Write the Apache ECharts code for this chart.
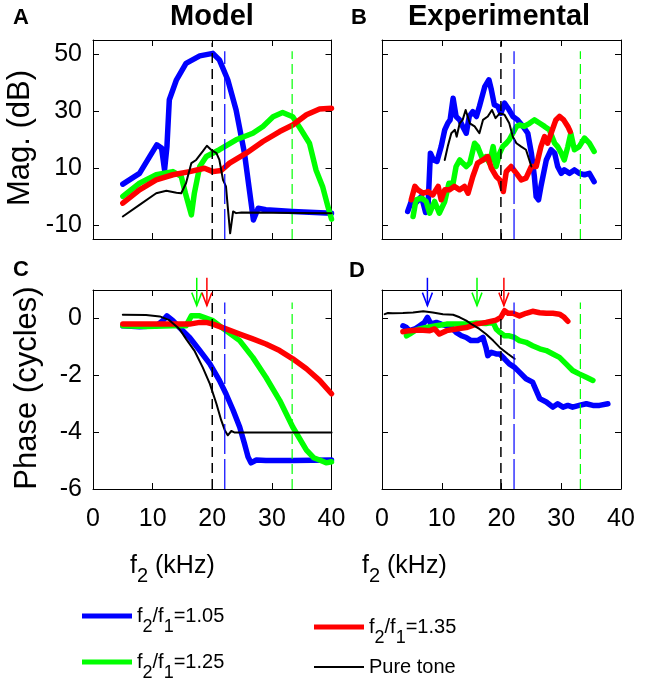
<!DOCTYPE html>
<html><head><meta charset="utf-8">
<script src="https://cdn.jsdelivr.net/npm/echarts@6/dist/echarts.min.js"></script>
<style>html,body{margin:0;padding:0;background:#fff}#c{width:650px;height:684px}</style>
</head><body><div id="c"></div><script>
// ---------- DATA ----------
const xTicks = [0, 10, 20, 30, 40];
const magTicks = [-10, 10, 30, 50];
const phaseTicks = [-6, -4, -2, 0];
const ratioNames = ['f2/f1=1.05', 'f2/f1=1.25', 'f2/f1=1.35'];
const pureName = 'Pure tone';

// Panel A: model magnitude (kHz, dB)
const modelMagBlue = [[5,4.3],[7.8,8.1],[9.5,14],[10.7,18.1],[11.5,17],[12.0,9.3],[12.4,17.5],[12.8,34],[14,41],[15.6,46.8],[17.9,49.4],[20.1,50.3],[21.2,48],[22.6,41],[24,30.4],[25.4,15.2],[26.3,1.1],[26.9,-8.3],[27.7,-4.2],[29,-4.7],[33.5,-5.3],[40,-5.9]];
const modelMagGreen = [[5,0],[7.8,4.6],[10.6,7.6],[13.4,8.7],[14.8,7],[15.5,1.1],[16.5,-6.5],[17,1.1],[17.9,10.5],[19,14],[21.2,16.4],[24,19.9],[26.8,22.2],[28.5,24.6],[30.2,28],[31.8,29.5],[33.5,28],[34.9,23.4],[36.3,18.7],[37.4,9.3],[38.5,3.5],[39.4,-3.6],[40,-8]];
const modelMagRed = [[5,-2.4],[7.8,2.3],[10.6,5.8],[13.4,7.6],[16.2,8.7],[18.7,9.9],[20.1,8.7],[21.5,9.1],[22.9,11.7],[25.7,15.2],[28.5,19.3],[31.3,22.8],[33.5,25.1],[35.8,28.7],[38,30.7],[40,31]];
const modelMagBlack = [[5,-7.1],[7.8,-3],[10.6,1.1],[12.3,2],[14,1.3],[14.8,1.1],[15.6,4.6],[16.5,11.7],[17.3,12.8],[18.4,15.8],[19.1,17.8],[19.8,16.4],[20.7,15.2],[21.2,12.8],[21.8,5.8],[22.3,3.5],[22.6,-3.6],[23,-13],[23.5,-5.3],[24,-5.9],[24.9,-5.7],[40,-5.9]];

// Panel B: experimental magnitude
const expMagBlue = [[4.3,-5.3],[4.9,-1.8],[5.7,-2.2],[6.6,0],[7.3,-5.7],[7.7,-3.6],[8.1,15.2],[8.6,12.8],[9.2,12.3],[9.9,17.5],[10.5,23.4],[11.0,25.7],[11.4,26.9],[11.9,34.5],[12.4,28.1],[13.0,26.9],[13.5,24.6],[14.1,22.2],[14.6,28.1],[15.2,29.8],[15.8,28.1],[16.3,31.6],[17.2,38.6],[17.9,41],[18.3,37.5],[18.8,32.2],[19.4,31.6],[19.9,29.2],[20.5,32.8],[21.1,31],[21.9,28.1],[22.7,26.9],[23.6,24.6],[24.4,22.2],[25,15.2],[25.5,7],[25.8,-0.1],[26.2,-1.2],[26.6,3.5],[27.5,12.8],[28.3,16.4],[28.9,15.2],[29.4,10.5],[30,8.1],[30.5,9.3],[31.4,8.1],[32.2,9.3],[33,8.1],[33.9,7.6],[34.7,8.1],[35.5,5.2]];
const expMagGreen = [[5.2,-7.1],[5.7,-1.2],[6.6,-0.6],[7.4,-1.8],[7.97,-5.9],[8.8,-1.8],[9.6,-5.9],[10.5,-1.8],[11.2,4.6],[11.9,4.6],[12.4,10.5],[13,12.8],[13.5,11.7],[14.1,10.5],[14.7,11.7],[15.5,18.7],[16,17.5],[16.9,12.8],[17.4,14],[18,11.7],[18.6,17.5],[19.1,10.5],[19.7,15.2],[20.2,17.5],[20.8,18.7],[21.3,19.9],[21.9,22.2],[22.5,24.6],[23,25.1],[23.8,24.6],[24.7,25.7],[25.5,26.9],[26.4,25.7],[27.2,24.6],[28,23.4],[28.9,18.7],[29.4,17.5],[30,15.2],[30.5,12.8],[31.1,17.5],[31.6,22.2],[32.2,16.4],[33,17.5],[33.9,20.5],[34.7,18.7],[35.5,15.8]];
const expMagRed = [[4.9,-1.2],[5.5,3.5],[6,2.3],[6.9,1.1],[7.7,1.7],[8.5,0.5],[9.4,3.5],[9.9,-1.2],[10.5,2.3],[11.3,2.3],[12.1,3.5],[13,2.3],[13.8,3.5],[14.4,1.1],[15.2,7],[16,11.7],[16.9,12.8],[17.7,14],[18.3,9.9],[19.1,7],[19.7,5.8],[20.3,1.7],[20.8,8.7],[21.6,10.5],[22.5,8.1],[23.3,5.8],[24.1,6.4],[25,10.5],[25.8,10.5],[26.6,17.5],[27.2,21],[27.7,18.7],[28.3,22.2],[29.1,26.9],[29.7,28.1],[30.4,26.9],[31.1,24.6],[31.5,22.8]];
const expMagBlack = [[10.5,12.8],[11,17.5],[11.6,22.2],[12.2,23.4],[12.5,21],[13,25.7],[13.5,26.9],[14,30.4],[14.7,25.7],[15.5,24.6],[16.3,22.2],[16.9,26.9],[17.7,28.1],[18.4,30.4],[19,27.5],[19.7,29.2],[20.5,28.7],[21.3,25.7],[21.9,21],[22.5,18.7],[23.3,17.5],[24.1,16.4],[25,10.5]];

// Panel C: model phase (cycles)
const modelPhBlue = [[5,-0.26],[7.8,-0.29],[10.6,-0.26],[11.7,-0.08],[12.4,0.09],[13.4,-0.08],[14.5,-0.32],[16.2,-0.67],[17.9,-1.13],[19.6,-1.6],[21.2,-2.18],[22.3,-2.65],[23.5,-3.23],[24.6,-3.82],[25.4,-4.4],[26,-4.87],[26.5,-5.08],[27.4,-4.98],[29,-5.0],[33.5,-5.0],[40,-4.98]];
const modelPhGreen = [[5,-0.26],[8.9,-0.28],[13.4,-0.26],[15.6,-0.26],[16.5,0.09],[17.9,0.09],[20.1,-0.08],[22.3,-0.43],[24.6,-0.78],[26.8,-1.37],[29,-2.07],[31.3,-2.88],[33.5,-3.82],[35.8,-4.63],[37,-4.9],[38,-4.98],[39.1,-5.08],[40,-5.04]];
const modelPhRed = [[5,-0.2],[8.9,-0.2],[13.4,-0.2],[16.2,-0.2],[17.9,-0.14],[19,-0.14],[20.1,-0.2],[22.3,-0.37],[24.6,-0.55],[26.8,-0.72],[29,-0.9],[31.3,-1.13],[33.5,-1.42],[35.8,-1.77],[38,-2.18],[40,-2.65]];
const modelPhBlack = [[5,0.13],[8.9,0.12],[11.2,0.07],[12.8,-0.06],[14.5,-0.37],[15.6,-0.72],[17,-1.13],[18.4,-1.72],[19.6,-2.3],[20.7,-3],[21.5,-3.58],[22.1,-3.93],[22.6,-4.11],[23.2,-3.96],[23.7,-4.01],[40,-4.01]];

// Panel D: experimental phase
const expPhBlue = [[3.5,-0.26],[4.1,-0.32],[4.6,-0.43],[5.5,-0.37],[6.3,-0.26],[7.1,-0.14],[7.6,0.04],[8.2,-0.2],[9.1,-0.14],[9.9,-0.2],[10.8,-0.26],[11.6,-0.32],[12.4,-0.49],[13.3,-0.61],[14.1,-0.67],[14.9,-0.78],[16,-0.78],[16.9,-0.67],[17.4,-1.02],[17.7,-1.31],[18.3,-1.19],[19.1,-1.25],[19.7,-1.25],[20.5,-1.42],[21.3,-1.6],[22.2,-1.72],[23,-1.89],[24.1,-2.12],[25.2,-2.24],[25.8,-2.53],[26.4,-2.82],[27.5,-2.94],[28.6,-3.12],[29.4,-3.0],[30.3,-3.12],[31.1,-3.06],[31.9,-3.12],[33,-3.06],[34.2,-3.0],[35.3,-3.06],[36.4,-3.06],[37.8,-3.0]];
const expPhGreen = [[4.1,-0.61],[4.6,-0.55],[5.5,-0.43],[6.3,-0.37],[7.4,-0.32],[9.1,-0.26],[10.8,-0.2],[12.4,-0.2],[14.1,-0.2],[15.8,-0.16],[17.4,-0.18],[18.6,-0.14],[19.1,-0.37],[19.7,-0.49],[20.5,-0.61],[21.3,-0.61],[22.2,-0.67],[23,-0.78],[24.1,-0.84],[25.2,-0.96],[26.4,-1.07],[27.5,-1.13],[28.6,-1.25],[29.7,-1.37],[30.8,-1.6],[31.9,-1.83],[33,-1.95],[34.2,-2.07],[35.3,-2.18]];
const expPhRed = [[3.5,-0.47],[4.6,-0.43],[6.3,-0.41],[8,-0.43],[8.8,-0.37],[9.6,-0.55],[10.8,-0.43],[12.4,-0.37],[14.1,-0.32],[15.8,-0.2],[17.4,-0.14],[19.1,-0.06],[19.9,0.04],[20.5,0.27],[21.1,0.18],[21.9,0.18],[23,0.09],[24.1,0.18],[25.2,0.25],[26.4,0.2],[27.5,0.18],[28.6,0.18],[29.7,0.15],[30.5,0.04],[31.1,-0.1]];
const expPhBlack = [[0.45,0.15],[1,0.19],[1.8,0.18],[3.5,0.19],[5.2,0.21],[6.9,0.25],[8.5,0.21],[10.2,0.15],[11.9,0.13],[13,0.04],[14.1,-0.08],[15.2,-0.23],[16.3,-0.37],[17.4,-0.55],[18.6,-0.78],[19.7,-1.02],[21.1,-1.25],[22.2,-1.42]];

// dashed reference frequencies (kHz): [black, blue, green]
const modelRefFreq = [20, 22.1, 33.4];
const expRefFreq = [19.9, 22.1, 33.2];
// arrows (kHz)
const modelArrows = [[17.4, 'green'], [19.1, 'red']];
const expArrows = [[7.6, 'blue'], [15.9, 'green'], [20.4, 'red']];
const arrowTopVal = 1.43, arrowTipVal = 0.45;

// ---------- STYLE ----------
const FONT = 'Liberation Sans';
const COL = {blue:'#0000ff', green:'#00ff00', red:'#ff0000', black:'#000000'};
const grids = [
  {left:93, top:40, width:238.5, height:199},
  {left:382, top:40, width:239, height:199},
  {left:93, top:290, width:238.5, height:199},
  {left:382, top:290, width:239, height:199}
];
const magRange = [-15, 55], phRange = [-6, 1];

const xAxes = [], yAxes = [];
grids.forEach((g, i) => {
  const showX = i >= 2;
  const base = {type:'value', gridIndex:i, min:0, max:40, interval:10,
    axisLine:{show:true, onZero:false, lineStyle:{color:'#000', width:1}},
    axisTick:{show:true, inside:true, length:6, lineStyle:{color:'#000'}},
    splitLine:{show:false}};
  xAxes.push(Object.assign({}, base, {position:'bottom',
    axisLabel:{show:showX, color:'#000', fontFamily:FONT, fontSize:25, margin:18}}));
  xAxes.push(Object.assign({}, base, {position:'top', axisLabel:{show:false}}));
  const isMag = i < 2;
  const r = isMag ? magRange : phRange;
  const ticks = isMag ? magTicks : phaseTicks;
  const yb = {type:'value', gridIndex:i, min:r[0], max:r[1],
    axisLine:{show:true, onZero:false, lineStyle:{color:'#000', width:1}},
    axisTick:{show:true, inside:true, length:6, customValues:ticks, lineStyle:{color:'#000'}},
    splitLine:{show:false}};
  const showY = (i % 2) === 0;
  yAxes.push(Object.assign({}, yb, {position:'left',
    axisLabel:{show:showY, customValues:ticks, color:'#000', fontFamily:FONT, fontSize:25, margin:11}}));
  yAxes.push(Object.assign({}, yb, {position:'right', axisLabel:{show:false}}));
});

const series = [];
function addLine(i, name, data, color, width) {
  series.push({type:'line', name:name, xAxisIndex:2*i, yAxisIndex:2*i, data:data,
    showSymbol:false, symbol:'none', smooth:false, silent:true,
    lineStyle:{color:color, width:width, cap:'round', join:'round'}, itemStyle:{color:color}, z:2});
}
function addPanel(i, b, g, r, k) {
  addLine(i, ratioNames[0], b, COL.blue, 5.5);
  addLine(i, ratioNames[1], g, COL.green, 5.5);
  addLine(i, ratioNames[2], r, COL.red, 5.5);
  addLine(i, pureName, k, COL.black, 2);
}
addPanel(0, modelMagBlue, modelMagGreen, modelMagRed, modelMagBlack);
addPanel(1, expMagBlue, expMagGreen, expMagRed, expMagBlack);
addPanel(2, modelPhBlue, modelPhGreen, modelPhRed, modelPhBlack);
addPanel(3, expPhBlue, expPhGreen, expPhRed, expPhBlack);

// dashed reference lines
const refColors = [COL.black, COL.blue, COL.green];
const refDash = [[10,6],[30,5],[10,5]];
function addRefs(i, freqs, bottom, tops) {
  freqs.forEach((f, j) => {
    series.push({type:'line', xAxisIndex:2*i, yAxisIndex:2*i, data:[[f,bottom],[f,tops[j]]],
      showSymbol:false, symbol:'none', silent:true, z:3,
      lineStyle:{color:refColors[j], width:j===0?1.5:1.2, type:refDash[j]}});
  });
}
addRefs(0, modelRefFreq, -15, [54, 51, 51]);
addRefs(1, expRefFreq, -15, [54.5, 51, 51]);
addRefs(2, modelRefFreq, -6, [0.56, 0.56, 0.56]);
addRefs(3, expRefFreq, -6, [0.15, 0.56, 0.56]);

// arrows
function addArrows(i, arr) {
  arr.forEach(a => {
    const color = COL[a[1]];
    series.push({type:'custom', xAxisIndex:2*i, yAxisIndex:2*i, clip:false, silent:true, z:4,
      data:[[a[0]]],
      renderItem:(params, api) => {
        const x = api.value(0);
        const t = api.coord([x, arrowTopVal]);
        const p = api.coord([x, arrowTipVal]);
        return {type:'group', children:[
          {type:'line', shape:{x1:t[0], y1:t[1], x2:p[0], y2:p[1]}, style:{stroke:color, lineWidth:1.5}},
          {type:'polyline', shape:{points:[[p[0]-5, p[1]-13],[p[0], p[1]],[p[0]+5, p[1]-13]]}, style:{stroke:color, lineWidth:1.5, fill:null}}
        ]};
      }});
  });
}
addArrows(2, modelArrows);
addArrows(3, expArrows);

// legends
const richLeg = {
  m:{fontFamily:FONT, fontSize:20, lineHeight:20, color:'#000', verticalAlign:'middle'},
  s:{fontFamily:FONT, fontSize:18, lineHeight:18, padding:[22,0,0,0], color:'#000', verticalAlign:'middle'}
};
function legFmt(name) {
  if (name.indexOf('f2/f1') === 0) {
    return '{m|f}{s|2}{m|/f}{s|1}{m|' + name.slice(5) + '}';
  }
  return name;
}
function mkLegend(name, left, top, h) {
  return {show:true, data:[{name:name, icon:'rect'}], left:left, top:top, padding:0,
    itemWidth:50, itemHeight:h, itemGap:0, selectedMode:false, formatter:legFmt,
    textStyle:{fontFamily:FONT, fontSize:20, color:'#000', rich:richLeg}};
}
const legends = [
  mkLegend(ratioNames[0], 82, 596, 5),
  mkLegend(ratioNames[1], 82, 642, 5),
  mkLegend(ratioNames[2], 314, 607, 5),
  mkLegend(pureName, 314, 657, 2)
];

const richAx = {
  m:{fontFamily:FONT, fontSize:25, lineHeight:25, color:'#000', verticalAlign:'middle'},
  s:{fontFamily:FONT, fontSize:20, lineHeight:20, padding:[20,0,0,0], color:'#000', verticalAlign:'middle'}
};
function txt(x, y, text, size, bold, align, rot) {
  return {type:'text', x:x, y:y, rotation:rot||0, silent:true,
    style:{text:text, fontFamily:FONT, fontSize:size, fontWeight:bold?'bold':'normal',
      fill:'#000', align:align||'center', verticalAlign:'middle'}};
}
const graphics = [
  txt(212, 17, 'Model', 29, true),
  txt(499, 17, 'Experimental', 29, true),
  txt(13, 18, 'A', 22, true, 'left'),
  txt(351, 18, 'B', 22, true, 'left'),
  txt(13, 270, 'C', 22, true, 'left'),
  txt(349, 271, 'D', 22, true, 'left'),
  txt(20, 138, 'Mag. (dB)', 31, false, 'center', Math.PI/2),
  txt(27, 388, 'Phase (cycles)', 31, false, 'center', Math.PI/2),
  {type:'text', x:130, y:566, silent:true, style:{text:'{m|f}{s|2}{m| (kHz)}', rich:richAx, align:'left', verticalAlign:'middle'}},
  {type:'text', x:362, y:566, silent:true, style:{text:'{m|f}{s|2}{m| (kHz)}', rich:richAx, align:'left', verticalAlign:'middle'}}
];

const chart = echarts.init(document.getElementById('c'), null, {renderer:'canvas'});
chart.setOption({
  animation:false,
  backgroundColor:'#fff',
  grid:grids,
  xAxis:xAxes,
  yAxis:yAxes,
  legend:legends,
  series:series,
  graphic:graphics
});
</script></body></html>
